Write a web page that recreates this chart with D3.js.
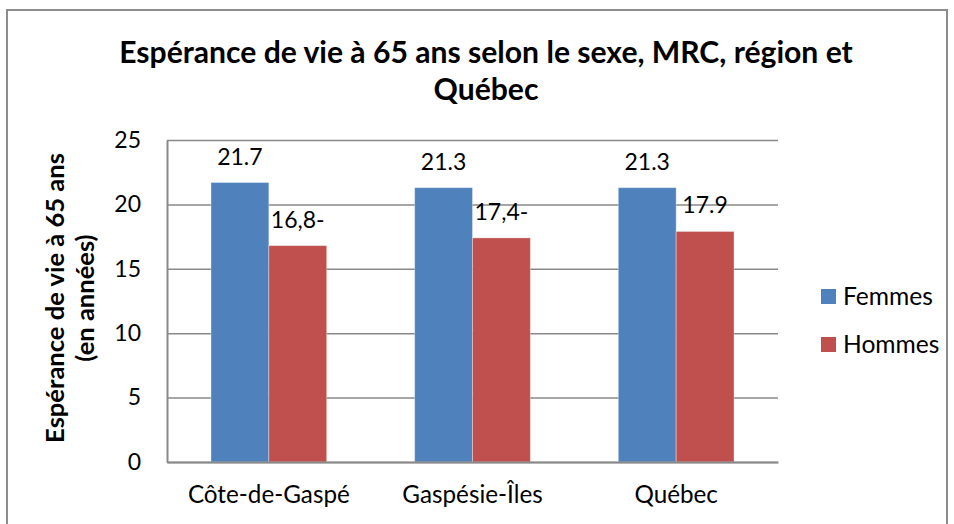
<!DOCTYPE html>
<meta charset="utf-8">
<head>
<style>
  body { margin: 0; background: #fff; }
</style>
</head>
<script src="https://d3js.org/d3.v7.min.js"></script>
<div id="my_dataviz"></div>
<script>

// data
var categories = ["Côte-de-Gaspé", "Gaspésie-Îles", "Québec"];
var series = ["Femmes", "Hommes"];
var femmes = [21.7, 21.3, 21.3];
var hommes = [16.8, 17.4, 17.9];
var femmesLabels = ["21.7", "21.3", "21.3"];
var hommesLabels = ["16,8-", "17,4-", "17.9"];
var yTicks = [0, 5, 10, 15, 20, 25];
var colors = ["#4F81BD", "#C0504D"];

var data = [];
categories.forEach(function(c, i) {
  data.push({cat: c, serie: "Femmes", value: femmes[i], label: femmesLabels[i]});
  data.push({cat: c, serie: "Hommes", value: hommes[i], label: hommesLabels[i]});
});

var W = 954, H = 524;
var font = "Lato, 'Open Sans', sans-serif";

// plot area
var margin = {top: 140, right: 176, bottom: 62, left: 167},
    width = W - margin.left - margin.right,
    height = H - margin.top - margin.bottom;

var root = d3.select("#my_dataviz")
  .append("svg")
    .attr("width", W)
    .attr("height", H)
    .style("font-family", font);

// outer frame
root.append("rect")
  .attr("x", 7).attr("y", 10)
  .attr("width", 940).attr("height", 530)
  .attr("fill", "none")
  .attr("stroke", "#8c8c8c")
  .attr("stroke-width", 2);

// font size that makes a string a given width
function sizeFor(str, weight, target) {
  var t = root.append("text")
    .attr("font-size", 100)
    .attr("font-weight", weight)
    .text(str);
  var s = 100 * target / t.node().getComputedTextLength();
  t.remove();
  return s;
}

var titleSize = sizeFor("Espérance de vie à 65 ans selon le sexe, MRC, région et", "bold", 734);
var yTitleSize = sizeFor("Espérance de vie à 65 ans", "bold", 290);
var catSize = sizeFor("Côte-de-Gaspé", "normal", 162);
var legendSize = sizeFor("Femmes", "normal", 90);
var tickSize = 23;
var labelSize = 23;

// title
var title = root.append("text")
  .attr("text-anchor", "middle")
  .attr("font-weight", "bold")
  .attr("font-size", titleSize)
  .attr("fill", "#000");
title.append("tspan").attr("x", 486).attr("y", 63)
  .text("Espérance de vie à 65 ans selon le sexe, MRC, région et");
title.append("tspan").attr("x", 486).attr("y", 100)
  .text("Québec");

// y axis title
var yTitle = root.append("text")
  .attr("transform", "translate(0,298) rotate(-90)")
  .attr("text-anchor", "middle")
  .attr("font-weight", "bold")
  .attr("font-size", yTitleSize);
yTitle.append("tspan").attr("x", 0).attr("y", 64).text("Espérance de vie à 65 ans");
yTitle.append("tspan").attr("x", 0).attr("y", 94).text("(en années)");

var svg = root.append("g")
  .attr("transform", "translate(" + margin.left + "," + margin.top + ")");

var x = d3.scaleBand()
  .domain(categories)
  .range([0, width])
  .paddingInner(0)
  .paddingOuter(0);

var xSub = d3.scaleBand()
  .domain(series)
  .range([0, x.bandwidth()])
  .paddingOuter(0.76);

var y = d3.scaleLinear()
  .domain([0, 25])
  .range([height, 0]);

var color = d3.scaleOrdinal().domain(series).range(colors);

// gridlines
svg.append("g")
  .call(d3.axisLeft(y).tickValues(yTicks).tickSize(-width).tickFormat(""))
  .call(function(g) {
    g.select(".domain").remove();
    g.selectAll("line").attr("stroke", "#898989").attr("stroke-width", 1.5);
  });

// bars
svg.selectAll("rect.bar")
  .data(data)
  .enter()
  .append("rect")
    .attr("class", "bar")
    .attr("x", function(d) { return x(d.cat) + xSub(d.serie); })
    .attr("y", function(d) { return y(d.value); })
    .attr("width", xSub.bandwidth())
    .attr("height", function(d) { return height - y(d.value); })
    .attr("fill", function(d) { return color(d.serie); })
    .attr("stroke", "rgba(255,255,255,0.35)")
    .attr("stroke-width", 1);

// data labels
svg.selectAll("text.lbl")
  .data(data)
  .enter()
  .append("text")
    .attr("class", "lbl")
    .attr("x", function(d) { return x(d.cat) + xSub(d.serie) + xSub.bandwidth() / 2; })
    .attr("y", function(d) { return y(d.value) - 18; })
    .attr("text-anchor", "middle")
    .attr("font-size", labelSize)
    .attr("fill", "#000")
    .text(function(d) { return d.label; });

// y axis
var yAxis = svg.append("g")
  .call(d3.axisLeft(y).tickValues(yTicks).tickSize(0).tickPadding(26));
yAxis.select(".domain").attr("stroke", "#898989").attr("stroke-width", 2);
yAxis.selectAll("text")
  .attr("font-size", tickSize)
  .attr("font-family", font)
  .attr("fill", "#000");

// x axis
var xAxis = svg.append("g")
  .attr("transform", "translate(0," + height + ")")
  .call(d3.axisBottom(x).tickSize(0).tickPadding(24));
xAxis.select(".domain").attr("stroke", "#898989").attr("stroke-width", 2);
xAxis.selectAll("text")
  .attr("font-size", catSize)
  .attr("font-family", font)
  .attr("fill", "#000");

// legend
var legend = root.append("g")
  .selectAll("g")
  .data(series)
  .enter()
  .append("g")
    .attr("transform", function(d, i) { return "translate(821," + (289 + i * 48) + ")"; });
legend.append("rect")
  .attr("width", 15).attr("height", 15)
  .attr("fill", function(d) { return color(d); });
legend.append("text")
  .attr("x", 22).attr("y", 7.5)
  .attr("dy", "0.35em")
  .attr("font-size", legendSize)
  .attr("fill", "#000")
  .text(function(d) { return d; });

</script>
